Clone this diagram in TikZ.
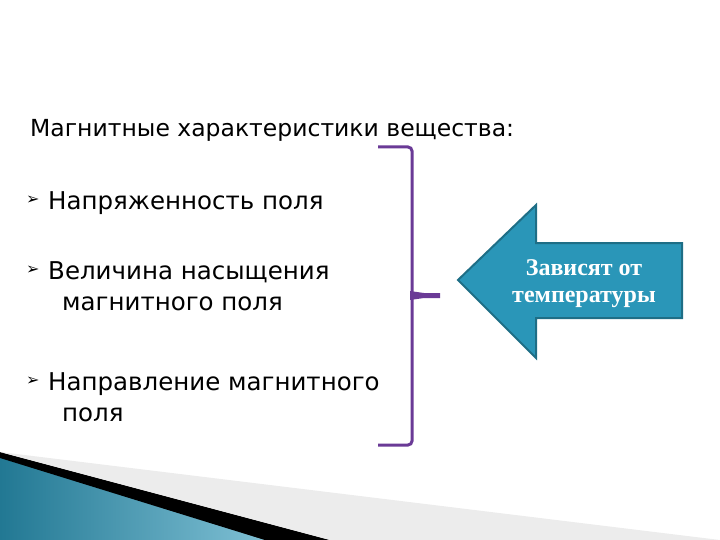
\documentclass[tikz,border=0pt]{standalone}
\usepackage{fontspec}
\setmainfont{DejaVu Sans}
\newfontfamily\bulletfont{DejaVu Sans}
\newfontfamily\serifb{Liberation Serif}
\definecolor{brk}{HTML}{6A3A96}
\definecolor{arr}{HTML}{2A96B8}
\definecolor{arrd}{HTML}{1E6E86}
\tikzset{item/.style={anchor=north west,align=left,font=\fontsize{24.5}{31}\selectfont,inner sep=0pt},
 bul/.style={anchor=north west,font=\bulletfont\fontsize{16}{16}\selectfont,inner sep=0pt}}
\begin{document}
\begin{tikzpicture}[x=1pt,y=-1pt]
\useasboundingbox (0,0) rectangle (720,540);
% bottom decoration
\fill[left color=arr!80!black,right color=arr!60!white] (0,455) -- (265,540) -- (0,540) -- cycle;
\fill[black] (0,452) -- (330,540) -- (265,540) -- (0,458) -- cycle;
\fill[gray!15] (0,452) -- (720,540) -- (330,540) -- cycle;
\node[anchor=west,inner sep=0pt,font=\fontsize{23.5}{28}\selectfont] (title) at (30,130) {Магнитные характеристики вещества:};
\node[bul] (b1) at (26,196) {➢};
\node[item] (t1) at (48,191) {Напряженность поля};
\node[bul] (b2) at (26,266) {➢};
\node[item] (t2) at (48,261) {Величина насыщения\\\hspace*{14pt}магнитного поля};
\node[bul] (b3) at (26,377) {➢};
\node[item] (t3) at (48,372) {Направление магнитного\\\hspace*{14pt}поля};
% bracket
\coordinate (bt) at (378,147);
\coordinate (bb) at (378,445);
\coordinate (bm) at (440,295);
\draw[brk,line width=3pt,rounded corners=4pt] (bt) -- (412,147) -- (412,445) -- (bb);
\fill[brk] (410,291) -- (424,293) -- (440,293) -- (440,298) -- (424,298) -- (410,300) -- cycle;
% arrow
\draw[arrd,fill=arr,line width=2pt] (458,280) -- (536,205) -- (536,243) -- (682,243) -- (682,318) -- (536,318) -- (536,358) -- cycle;
\node[text=white,align=center,font=\serifb\bfseries\fontsize{24}{27}\selectfont] (lab) at (584,284) {Зависят от\\температуры};
\end{tikzpicture}
\end{document}
